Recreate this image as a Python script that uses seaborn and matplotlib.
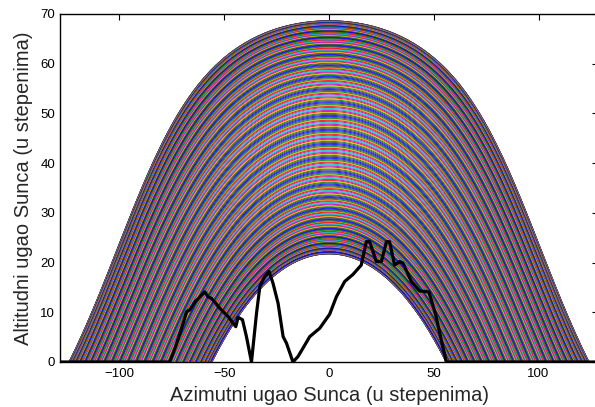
import numpy as np
import pandas as pd
import matplotlib
matplotlib.use("Agg")
import matplotlib.pyplot as plt
import seaborn as sns

# site latitude (deg) and days of the year for the sun paths
latitude = 44.8
days = np.arange(1, 366)
hour_angles = np.arange(-180.0, 180.5, 0.5)

# horizon profile (azimuth, altitude in degrees)
horizon_az = [-180, -76, -73.5, -69.6, -68, -66.4, -64, -61.6, -59.3, -57.7, -56.1,
              -52.1, -48.1, -44.5, -43.4, -41.3, -39.4, -37, -34.6, -33, -30.7,
              -28.6, -26.7, -24.3, -21.9, -20.3, -17.2, -14.8, -12.4, -9.2, -4.4,
              0.3, 3.5, 7.5, 11.4, 15.4, 17.8, 19.4, 22.6, 25, 27.4, 28.9, 31.3,
              33.7, 35.3, 39.3, 43.2, 47.7, 50.9, 53.6, 56, 180]
horizon_alt = [0, 0, 2.8, 7.8, 10.1, 10.5, 12.1, 13.1, 14.1, 13.1, 12.8,
               10.8, 9.1, 7.1, 9.0, 8.5, 5.1, 0, 9.8, 15.2, 17.2,
               18.2, 15.8, 11.8, 5.1, 3.8, 0, 1.1, 2.8, 5.1, 6.8,
               9.6, 13.1, 16.2, 17.6, 19.5, 24.2, 24.2, 20.2, 20.2, 24.2, 24.2, 19.5,
               20.2, 19.9, 16.2, 14.3, 14.1, 9.5, 4.4, 0, 0]

# MATLAB's old default colour order
matlab_colors = [(0, 0, 1), (0, 0.5, 0), (1, 0, 0), (0, 0.75, 0.75),
                 (0.75, 0, 0.75), (0.75, 0.75, 0), (0.25, 0.25, 0.25)]

# sun position for each day
phi = np.radians(latitude)
H = np.radians(hour_angles)
rows = []
for d in days:
    dec = np.radians(23.45 * np.sin(np.radians(360.0 * (284 + d) / 365.0)))
    alt = np.degrees(np.arcsin(np.sin(phi) * np.sin(dec) + np.cos(phi) * np.cos(dec) * np.cos(H)))
    az = np.degrees(np.arctan2(np.sin(H), np.cos(H) * np.sin(phi) - np.tan(dec) * np.cos(phi)))
    rows.append(pd.DataFrame({"az": az, "alt": alt, "day": d}))
paths = pd.concat(rows, ignore_index=True)
horizon = pd.DataFrame({"az": horizon_az, "alt": horizon_alt})

sns.set_style("white")
plt.rcParams["font.family"] = ["Liberation Sans", "DejaVu Sans"]

fig = plt.figure(figsize=(5.95, 4.07), dpi=100)
ax = fig.add_axes([60 / 595, 45 / 407, 538 / 595, 348 / 407])

palette = [matlab_colors[i % 7] for i in range(len(days))]
sns.lineplot(data=paths, x="az", y="alt", hue="day", palette=palette,
             estimator=None, sort=False, legend=False, linewidth=0.6, ax=ax)
sns.lineplot(data=horizon, x="az", y="alt", color="black", estimator=None,
             sort=False, linewidth=2.3, ax=ax)

ax.set_xlim(-128.4, 128.4)
ax.set_ylim(0, 70)
ax.set_xticks([-100, -50, 0, 50, 100])
ax.set_yticks(range(0, 71, 10))
ax.tick_params(direction="in", length=4, width=0.8, labelsize=9.5,
               top=True, right=True, colors="black")
ax.tick_params(axis="x", pad=4.5)
ax.tick_params(axis="y", pad=3.5)
for s in ax.spines.values():
    s.set_color("black")
    s.set_linewidth(1.0)
ax.set_xlabel("Azimutni ugao Sunca (u stepenima)", fontsize=14.5, labelpad=4)
ax.set_ylabel("Altitudni ugao Sunca (u stepenima)", fontsize=14.5, labelpad=5)

fig.savefig("out.png", dpi=100)
